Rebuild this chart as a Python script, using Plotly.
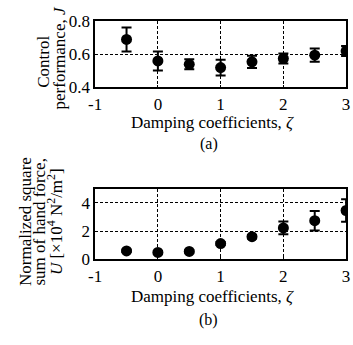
import plotly.graph_objects as go

# Damping coefficients (shared x values)
zeta = [-0.5, 0.0, 0.5, 1.0, 1.5, 2.0, 2.5, 3.0]

# (a) Control performance J: mean and error half-width
perf_mean = [0.69, 0.56, 0.54, 0.52, 0.555, 0.575, 0.595, 0.62]
perf_err = [0.073, 0.057, 0.03, 0.048, 0.037, 0.03, 0.04, 0.03]

# (b) Normalized square sum of hand force U [x10^4 N^2/m^2]
force_mean = [0.6, 0.49, 0.56, 1.12, 1.6, 2.22, 2.73, 3.45]
force_err = [0.08, 0.08, 0.08, 0.1, 0.12, 0.45, 0.69, 0.8]

x_ticks = [-1, 0, 1, 2, 3]
perf_ticks = [0.4, 0.6, 0.8]
force_ticks = [0, 2, 4]

W, H = 353, 345
FONT = "Liberation Serif"

def py(px):
    return 1 - px / H

def px_x(px):
    return px / W

fig = go.Figure()

marker = dict(color="black", size=11)
err_style = dict(type="data", color="black", thickness=2, width=5)

fig.add_trace(go.Scatter(
    x=zeta, y=perf_mean, mode="markers", marker=marker,
    error_y=dict(array=perf_err, **err_style),
    xaxis="x", yaxis="y", showlegend=False,
))
fig.add_trace(go.Scatter(
    x=zeta, y=force_mean, mode="markers", marker=marker,
    error_y=dict(array=force_err, **err_style),
    xaxis="x2", yaxis="y2", showlegend=False,
))

axis_common = dict(
    showline=True, linecolor="black", linewidth=1.5, mirror=True,
    showgrid=True, gridcolor="black", gridwidth=1, griddash="3px,2px",
    zeroline=False, ticks="inside", ticklen=3, tickcolor="black",
    ticklabeloverflow="allow",
    tickfont=dict(family=FONT, size=17, color="black"),
)

x_dom = [px_x(91), px_x(350)]

fig.update_layout(
    width=W, height=H,
    margin=dict(l=0, r=0, t=0, b=0),
    paper_bgcolor="white", plot_bgcolor="white",
    font=dict(family=FONT, color="black"),
    xaxis=dict(domain=x_dom, range=[-1, 3], tickvals=x_ticks,
               ticktext=["-1", "0", "1", "2", "3"], anchor="y", **axis_common),
    yaxis=dict(domain=[py(83), py(13)], range=[0.4, 0.8], tickvals=perf_ticks,
               ticktext=["0.4", "0.6", "0.8"], anchor="x", **axis_common),
    xaxis2=dict(domain=x_dom, range=[-1, 3], tickvals=x_ticks,
                ticktext=["-1", "0", "1", "2", "3"], anchor="y2", **axis_common),
    yaxis2=dict(domain=[py(265), py(190)], range=[0, 5], tickvals=force_ticks,
                ticktext=["0", "2", "4"], anchor="x2", **axis_common),
)

def note(text, xpx, ypx, angle=0, size=17):
    fig.add_annotation(
        text=text, x=px_x(xpx), y=py(ypx), xref="paper", yref="paper",
        showarrow=False, textangle=angle, xanchor="center", yanchor="middle",
        font=dict(family=FONT, size=size, color="black"),
    )

# Panel (a) labels
note("Control", 38, 56, angle=-90)
note("performance, <i>J</i>", 54, 52, angle=-90)
note("Damping coefficients, <i>ζ</i>", 212, 120)
note("(a)", 208, 143, size=16)

# Panel (b) labels
note("Normalized square", 19, 225, angle=-90)
note("sum of hand force,", 34, 225, angle=-90)
note("<i>U</i> [×10<sup>4</sup> N<sup>2</sup>/m<sup>2</sup>]", 49, 225, angle=-90)
note("Damping coefficients, <i>ζ</i>", 212, 304)
note("(b)", 208, 329, size=16)

fig.write_html("out.html")
